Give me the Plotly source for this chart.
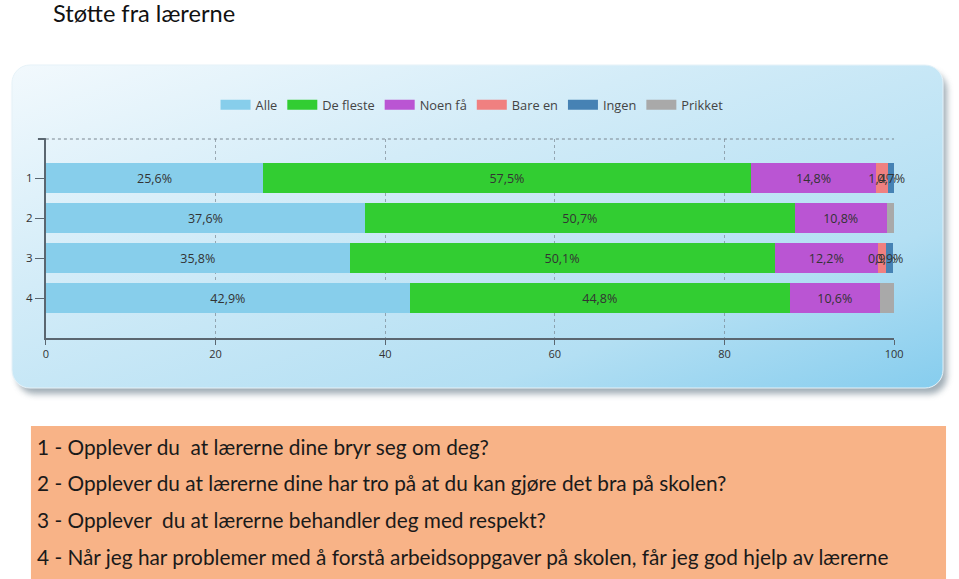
import base64
import plotly.graph_objects as go

# ---- data ----
categories = [1, 2, 3, 4]
category_labels = ["1", "2", "3", "4"]
series_names = ["Alle", "De fleste", "Noen få", "Bare en", "Ingen", "Prikket"]
alle = [25.6, 37.6, 35.8, 42.9]
de_fleste = [57.5, 50.7, 50.1, 44.8]
noen_faa = [14.8, 10.8, 12.2, 10.6]
bare_en = [1.4, 0.0, 0.9, 0.0]
ingen = [0.7, 0.0, 0.9, 0.0]
prikket = [0.0, 0.9, 0.0, 1.7]
x_ticks = [0, 20, 40, 60, 80, 100]
title_text = "Støtte fra lærerne"
questions = [
    "1 - Opplever du  at lærerne dine bryr seg om deg?",
    "2 - Opplever du at lærerne dine har tro på at du kan gjøre det bra på skolen?",
    "3 - Opplever  du at lærerne behandler deg med respekt?",
    "4 - Når jeg har problemer med å forstå arbeidsoppgaver på skolen, får jeg god hjelp av lærerne",
]

colors = ["#87CEEB", "#32CD32", "#BA55D3", "#F08080", "#4682B4", "#A9A9A9"]
show_labels = [True, True, True, True, True, False]
all_series = [alle, de_fleste, noen_faa, bare_en, ingen, prikket]

W, H = 959, 579

fig = go.Figure()
for name, vals, col, lab in zip(series_names, all_series, colors, show_labels):
    texts = [("%.1f%%" % v).replace(".", ",") if (lab and v > 0) else "" for v in vals]
    fig.add_trace(go.Bar(
        name=name, y=categories, x=vals, orientation="h",
        marker=dict(color=col, line=dict(width=0)),
        width=0.75, legendgroup=name, showlegend=False,
        text=texts, textposition="inside", insidetextanchor="middle", textangle=0,
        textfont=dict(family="Open Sans, DejaVu Sans", size=12.5, color="#333333"),
        constraintext="none", cliponaxis=False,
        hoverinfo="x+name",
    ))
# legend entries drawn as wide swatches (empty line traces)
for name, col in zip(series_names, colors):
    fig.add_trace(go.Scatter(
        name=name, x=[None], y=[None], mode="lines", legendgroup=name,
        line=dict(color=col, width=10), showlegend=True, hoverinfo="skip",
    ))

# background panel as svg (gradient + shadow)
svg = f'''<svg xmlns="http://www.w3.org/2000/svg" width="{W}" height="{H}" viewBox="0 0 {W} {H}" preserveAspectRatio="none">
<defs>
<linearGradient id="g" x1="0" y1="0" x2="1" y2="1">
<stop offset="0" stop-color="#f2f9fd"/>
<stop offset="0.35" stop-color="#d3ecf8"/>
<stop offset="0.75" stop-color="#b3dff3"/>
<stop offset="1" stop-color="#86cdee"/>
</linearGradient>
<filter id="b" x="-5%" y="-5%" width="110%" height="115%"><feGaussianBlur stdDeviation="3"/></filter>
</defs>
<rect x="14" y="72" width="932" height="322" rx="18" ry="18" fill="#8a9aa4" filter="url(#b)" opacity="0.8"/>
<rect x="9" y="65" width="933" height="323" rx="18" ry="18" fill="url(#g)" stroke="#e6f2f8" stroke-width="1"/>
</svg>'''
uri = "data:image/svg+xml;base64," + base64.b64encode(svg.encode("utf-8")).decode("ascii")

x0p, x1p = 43 / W, 893 / W
ytop, ybot = 1 - 139 / H, 1 - 338 / H

fig.update_layout(
    width=969, height=H, autosize=False,
    margin=dict(l=0, r=0, t=0, b=0),
    paper_bgcolor="white", plot_bgcolor="rgba(0,0,0,0)",
    barmode="stack",
    bargap=0.25,
    uniformtext=dict(mode="show", minsize=12.5),
    font=dict(family="Open Sans, DejaVu Sans", size=11, color="#333333"),
    images=[dict(source=uri, xref="paper", yref="paper", x=0, y=1, sizex=1, sizey=1,
                 sizing="stretch", xanchor="left", yanchor="top", layer="below")],
    showlegend=True,
    legend=dict(orientation="h", x=213 / W, y=1 - 90 / H, xanchor="left", yanchor="top",
                bgcolor="rgba(0,0,0,0)", font=dict(size=12.8, color="#444444"),
                itemwidth=30, traceorder="normal", tracegroupgap=0),
    xaxis=dict(domain=[x0p, x1p], range=[0, 100], tickvals=x_ticks,
               ticktext=[str(t) for t in x_ticks],
               showgrid=True, gridcolor="rgba(110,120,130,0.6)", griddash="dot", gridwidth=1,
               showline=True, linecolor="#5a6670", linewidth=2,
               ticks="outside", ticklen=5, tickcolor="#5a6670",
               tickfont=dict(size=11, color="#333333"), zeroline=False, fixedrange=True),
    yaxis=dict(domain=[ybot, ytop], range=[5.0, 0.025], tickvals=categories,
               ticktext=category_labels, showgrid=False,
               showline=True, linecolor="#5a6670", linewidth=2,
               ticks="outside", ticklen=9, tickcolor="#5a6670",
               tickfont=dict(size=11.5, color="#333333"), zeroline=False, fixedrange=True),
    shapes=[
        dict(type="line", xref="x", yref="y domain", x0=0, x1=100, y0=1, y1=1,
             line=dict(color="#7a8690", width=1, dash="dot")),
        dict(type="line", xref="paper", yref="y domain", x0=35 / W, x1=43 / W, y0=1, y1=1,
             line=dict(color="#5a6670", width=2)),
        dict(type="rect", xref="paper", yref="paper", x0=28 / W, x1=945 / W,
             y0=0, y1=1 - 426 / H, fillcolor="#F8B387", line=dict(width=0), layer="below"),
    ],
)

annotations = [dict(text=title_text, xref="paper", yref="paper", x=48 / W, y=1 - 13.5 / H,
                    xanchor="left", yanchor="middle", showarrow=False,
                    font=dict(family="Lato, Open Sans", size=23.6, color="#111111"))]
line_y = [446, 482, 519, 556]
for q, py in zip(questions, line_y):
    annotations.append(dict(text=q, xref="paper", yref="paper", x=32 / W, y=1 - py / H,
                            xanchor="left", yanchor="middle", showarrow=False,
                            font=dict(family="Lato, Open Sans", size=20.8, color="#1a1a1a")))
fig.update_layout(annotations=annotations)

fig.write_html("out.html",
               config={"responsive": False, "displayModeBar": False},
               post_script=("document.documentElement.style.overflow='hidden';"
                            "document.body.style.margin='0';"
                            "document.body.style.overflow='hidden';"))
